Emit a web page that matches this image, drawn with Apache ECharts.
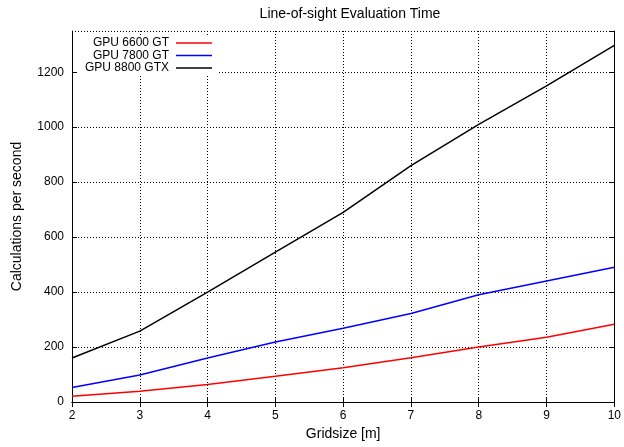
<!DOCTYPE html>
<html>
<head>
<meta charset="utf-8">
<script src="https://cdn.jsdelivr.net/npm/echarts@6/dist/echarts.min.js"></script>
<style>
  html, body { margin: 0; padding: 0; background: #fff; }
  #chart { width: 624px; height: 447px; }
</style>
</head>
<body>
<div id="chart"></div>
<script>
var gridsize = [2, 3, 4, 5, 6, 7, 8, 9, 10];
var gpu6600 = [21, 39, 64, 94, 125, 161, 200, 236, 283];
var gpu7800 = [53, 98, 160, 218, 268, 322, 390, 440, 490];
var gpu8800 = [160, 258, 400, 545, 690, 860, 1010, 1150, 1298];
var names = ["GPU 6600 GT", "GPU 7800 GT", "GPU 8800 GTX"];
var colors = ["#ff0000", "#0000ff", "#000000"];

var font = "Liberation Sans";

function pairs(ys) {
    var out = [];
    for (var i = 0; i < gridsize.length; i++) out.push([gridsize[i], ys[i]]);
    return out;
}

var dotted = { show: true, lineStyle: { color: "#000", type: [1, 2], width: 1 } };

var option = {
    animation: false,
    backgroundColor: "#fff",
    title: {
        text: "Line-of-sight Evaluation Time",
        left: 345, top: 2, textAlign: "center",
        textStyle: { fontFamily: font, fontSize: 14, fontWeight: "normal", color: "#000" }
    },
    // white patch behind the key, like gnuplot blanks the grid there
    graphic: [{
        type: "rect", left: 78, top: 36, z: 1,
        shape: { width: 140, height: 39 },
        style: { fill: "#fff" }
    }],
    // one legend per row so the texts stay right-aligned against the samples
    legend: [0, 1, 2].map(function (i) {
        return {
            data: [names[i]],
            right: 412, top: 37 + i * 12.5,
            align: "right",
            itemWidth: 36, itemHeight: 1.6, itemGap: 0,
            icon: "rect",
            textStyle: { fontFamily: font, fontSize: 12, color: "#000", padding: [0, 2, 0, 0] },
            padding: 0, z: 5
        };
    }),
    grid: { left: 72, right: 7, top: 31, bottom: 45 },
    xAxis: [{
        type: "value", min: 2, max: 10, interval: 1,
        name: "Gridsize [m]", nameLocation: "middle", nameGap: 25,
        nameTextStyle: { fontFamily: font, fontSize: 14, color: "#000" },
        axisLine: { lineStyle: { color: "#000" } },
        axisTick: { inside: true, length: 5, lineStyle: { color: "#000" } },
        axisLabel: { fontFamily: font, fontSize: 12, color: "#000", margin: 8 },
        splitLine: dotted
    }, {
        type: "value", min: 2, max: 10, interval: 1, position: "top",
        axisLine: { show: true, lineStyle: { color: "#000" } },
        axisTick: { show: true, inside: true, length: 5, lineStyle: { color: "#000" } },
        axisLabel: { show: false }, splitLine: { show: false }
    }],
    yAxis: [{
        type: "value", min: 0, max: 1350, interval: 200,
        name: "Calculations per second", nameLocation: "middle", nameGap: 48,
        nameTextStyle: { fontFamily: font, fontSize: 14, color: "#000" },
        axisLine: { show: true, lineStyle: { color: "#000" } },
        axisTick: { show: true, inside: true, length: 5, lineStyle: { color: "#000" } },
        axisLabel: {
            fontFamily: font, fontSize: 12, color: "#000", margin: 8, showMaxLabel: false,
            formatter: function (v) { return String(v); }
        },
        splitLine: dotted
    }, {
        type: "value", min: 0, max: 1350, interval: 200, position: "right",
        axisLine: { show: true, lineStyle: { color: "#000" } },
        axisTick: { show: true, inside: true, length: 5, lineStyle: { color: "#000" } },
        axisLabel: { show: false }, splitLine: { show: false }
    }],
    series: [gpu6600, gpu7800, gpu8800].map(function (ys, i) {
        return {
            name: names[i], type: "line", data: pairs(ys),
            showSymbol: false, symbol: "none",
            lineStyle: { color: colors[i], width: 1.5 },
            itemStyle: { color: colors[i] },
            z: 3
        };
    })
};

var myChart = echarts.init(document.getElementById("chart"));
myChart.setOption(option);
</script>
</body>
</html>
